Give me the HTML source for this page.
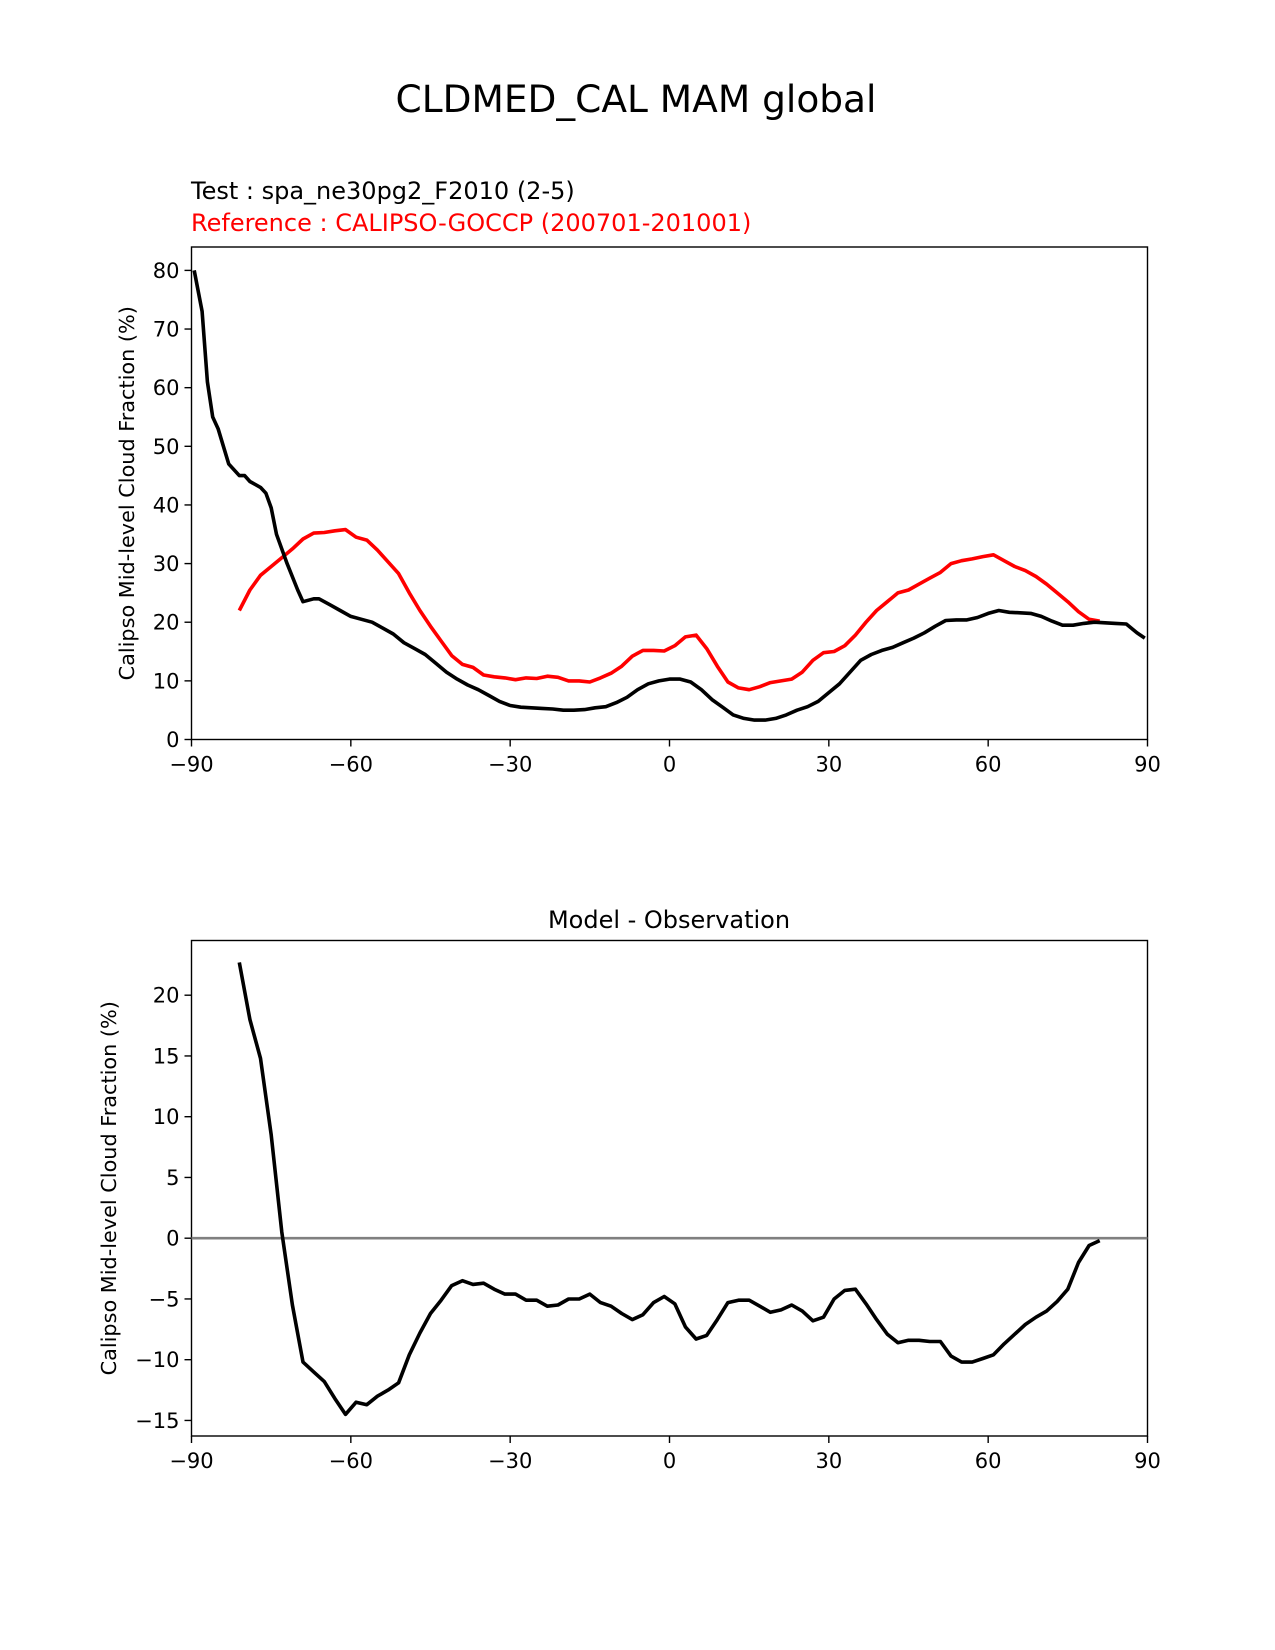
<!DOCTYPE html>
<html><head><meta charset="utf-8"><style>
body{margin:0;background:#fff}
svg{display:block;font-family:"DejaVu Sans","Liberation Sans",sans-serif}
</style></head><body>
<svg id="chart" width="1275" height="1650" viewBox="0 0 1275 1650">
<text x="636" y="112" text-anchor="middle" font-size="37.5">CLDMED_CAL MAM global</text>
<text x="191" y="199" font-size="24">Test : spa_ne30pg2_F2010 (2-5)</text>
<text x="191" y="231" font-size="24" fill="#ff0000">Reference : CALIPSO-GOCCP (200701-201001)</text>
<text x="669" y="928" text-anchor="middle" font-size="24">Model - Observation</text>
<g id="top"></g>
<g id="bot"></g>
</svg>
<script>
const xTicks=[-90,-60,-30,0,30,60,90];
const xTickLabels=["\u221290","\u221260","\u221230","0","30","60","90"];
const topYTicks=[0,10,20,30,40,50,60,70,80];
const botYTicks=[-15,-10,-5,0,5,10,15,20];
const testLat=[-89.5,-88,-87,-86,-85,-84,-83,-81,-80,-79,-78,-77,-76,-75,-74,-72,-70,-69,-67,-66,-64,-62,-60,-58,-56,-54,-52,-50,-48,-46,-44,-42,-40,-38,-36,-34,-32,-30,-28,-26,-24,-22,-20,-18,-16,-14,-12,-10,-8,-6,-4,-2,0,2,4,6,8,10,12,14,16,18,20,22,24,26,28,30,32,34,36,38,40,42,44,46,48,50,52,54,56,58,60,62,64,66,68,70,72,74,76,78,80,82,84,86,88,89.5];
const testVal=[80,73,61,55,53,50,47,45,45,44,43.5,43,42,39.5,35,30,25.5,23.5,24,24,23,22,21,20.5,20,19,18,16.5,15.5,14.5,13,11.5,10.3,9.3,8.5,7.5,6.5,5.8,5.5,5.4,5.3,5.2,5.0,5.0,5.1,5.4,5.6,6.3,7.2,8.5,9.5,10,10.3,10.3,9.8,8.5,6.8,5.5,4.2,3.6,3.3,3.3,3.6,4.2,5,5.6,6.5,8,9.5,11.5,13.5,14.5,15.2,15.7,16.5,17.3,18.2,19.3,20.3,20.4,20.4,20.8,21.5,22,21.7,21.6,21.5,21,20.2,19.5,19.5,19.8,20,19.9,19.8,19.7,18.2,17.3];
const refLat=[-81,-79,-77,-75,-73,-71,-69,-67,-65,-63,-61,-59,-57,-55,-53,-51,-49,-47,-45,-43,-41,-39,-37,-35,-33,-31,-29,-27,-25,-23,-21,-19,-17,-15,-13,-11,-9,-7,-5,-3,-1,1,3,5,7,9,11,13,15,17,19,21,23,25,27,29,31,33,35,37,39,41,43,45,47,49,51,53,55,57,59,61,63,65,67,69,71,73,75,77,79,81];
const refVal=[22,25.5,28,29.5,31,32.5,34.2,35.2,35.3,35.6,35.8,34.5,34,32.3,30.3,28.3,25,22,19.3,16.8,14.3,12.8,12.3,11,10.7,10.5,10.2,10.5,10.4,10.8,10.6,10,10,9.8,10.5,11.3,12.5,14.2,15.2,15.2,15.1,16,17.5,17.8,15.5,12.5,9.8,8.8,8.5,9,9.7,10,10.3,11.5,13.5,14.8,15,16,17.8,20,22,23.5,25,25.5,26.5,27.5,28.5,30,30.5,30.8,31.2,31.5,30.5,29.5,28.8,27.8,26.5,25,23.5,21.8,20.5,20.2];
const diffVal=[22.7,18,14.8,8.5,0.5,-5.5,-10.2,-11,-11.8,-13.2,-14.5,-13.5,-13.7,-13,-12.5,-11.9,-9.6,-7.8,-6.2,-5.1,-3.9,-3.5,-3.8,-3.7,-4.2,-4.6,-4.6,-5.1,-5.1,-5.6,-5.5,-5,-5,-4.6,-5.3,-5.6,-6.2,-6.7,-6.3,-5.3,-4.8,-5.4,-7.3,-8.3,-8,-6.7,-5.3,-5.1,-5.1,-5.6,-6.1,-5.9,-5.5,-6,-6.8,-6.5,-5,-4.3,-4.2,-5.4,-6.7,-7.9,-8.6,-8.4,-8.4,-8.5,-8.5,-9.7,-10.2,-10.2,-9.9,-9.6,-8.7,-7.9,-7.1,-6.5,-6,-5.2,-4.2,-2,-0.6,-0.2];
const NS='http://www.w3.org/2000/svg';
function mk(p,t,a){const e=document.createElementNS(NS,t);for(const k in a)e.setAttribute(k,a[k]);p.appendChild(e);return e;}
function panel(g,top,bottom,yMin,yMax,yTicks,yLabel,labelX){
  const L=191.5,R=1147.5;
  const x=v=>L+(v+90)/180*(R-L);
  const y=v=>bottom-(v-yMin)/(yMax-yMin)*(bottom-top);
  const fr=mk(g,'rect',{x:L,y:top,width:R-L,height:bottom-top,fill:'none',stroke:'#000','stroke-width':1.4});
  
  
  xTicks.forEach((t,i)=>{
    const l=mk(g,'line',{x1:x(t),x2:x(t),y1:bottom,y2:bottom+7,stroke:'#000','stroke-width':1.4});
    
    
    const tx=mk(g,'text',{x:x(t),y:bottom+32,'text-anchor':'middle','font-size':21});
    tx.textContent=xTickLabels[i];
    
    
  });
  yTicks.forEach(t=>{
    const l=mk(g,'line',{x1:L-7,x2:L,y1:y(t),y2:y(t),stroke:'#000','stroke-width':1.4});
    
    
    const tx=mk(g,'text',{x:L-12,y:y(t)+7.5,'text-anchor':'end','font-size':21});
    tx.textContent=t<0?'\u2212'+(-t):String(t);
    
    
  });
  const yl=mk(g,'text',{x:labelX,y:(top+bottom)/2,'text-anchor':'middle','font-size':20.8,transform:`rotate(-90 ${labelX} ${(top+bottom)/2})`});
  yl.textContent=yLabel;
  
  
  return {x,y};
}
function line(g,lat,val,s,color,name){
  const d=lat.map((a,i)=>(i?'L':'M')+s.x(a).toFixed(1)+','+s.y(val[i]).toFixed(1)).join('');
  const p=mk(g,'path',{d,fill:'none',stroke:color,'stroke-width':3.6,'stroke-linejoin':'round'});
  
  
}
const gt=document.getElementById('top');
const tTop=247,tBot=739.5,t80=270.4;
const st=panel(gt,tTop,tBot,0,80*(tBot-tTop)/(tBot-t80),topYTicks,'Calipso Mid-level Cloud Fraction (%)',134);
line(gt,refLat,refVal,st,'#ff0000','reference-line');
line(gt,testLat,testVal,st,'#000','test-line');
const gb=document.getElementById('bot');
const bTop=940.5,bBot=1436,yb0=1238.2,ppu=(1238.2-995.2)/20;
const sb=panel(gb,bTop,bBot,(yb0-bBot)/ppu,(yb0-bTop)/ppu,botYTicks,'Calipso Mid-level Cloud Fraction (%)',116);
const z=mk(gb,'line',{x1:191.5,x2:1147.5,y1:sb.y(0),y2:sb.y(0),stroke:'#808080','stroke-width':2.6});


line(gb,refLat,diffVal,sb,'#000','difference-line');
</script>
</body></html>
